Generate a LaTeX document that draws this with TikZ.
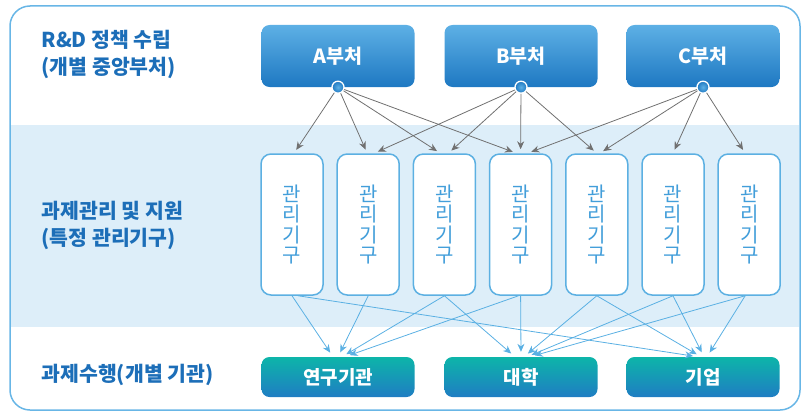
\documentclass[tikz,border=0pt]{standalone}
\usepackage{fontspec}
\setmainfont{Noto Sans CJK KR}
\usetikzlibrary{positioning, arrows.meta, calc}
\definecolor{framecol}{RGB}{104,182,230}
\definecolor{bandcol}{RGB}{221,238,249}
\definecolor{labelblue}{RGB}{28,110,184}
\definecolor{depttop}{RGB}{93,176,229}
\definecolor{deptbot}{RGB}{30,120,194}
\definecolor{insttop}{RGB}{13,181,169}
\definecolor{instbot}{RGB}{31,125,195}
\definecolor{orgline}{RGB}{92,176,226}
\definecolor{orgtext}{RGB}{66,158,218}
\definecolor{arrowgray}{RGB}{112,112,112}
\definecolor{flowblue}{RGB}{90,176,227}
\tikzset{
  tier/.style={anchor=west, align=left, text=labelblue, font=\bfseries\fontsize{20.5}{27}\selectfont},
  dept/.style={rectangle, rounded corners=8pt, minimum width=153pt, minimum height=62pt, top color=depttop, bottom color=deptbot, text=white, font=\bfseries\fontsize{19.5}{20}\selectfont},
  hub/.style={circle, minimum size=12pt, inner sep=0pt, draw=white, line width=1.3pt, inner color=depttop, outer color=deptbot},
  agency/.style={rectangle, rounded corners=10pt, minimum width=62pt, minimum height=141pt, draw=orgline, line width=1.5pt, fill=white, text=orgtext, align=center, font=\fontsize{20}{20.5}\selectfont},
  inst/.style={rectangle, rounded corners=8pt, minimum width=153pt, minimum height=40pt, top color=insttop, bottom color=instbot, text=white, font=\bfseries\fontsize{19}{20}\selectfont},
  policy/.style={draw=arrowgray, line width=0.8pt, -{Stealth[length=8pt,width=7pt]}, shorten >=4pt},
  flow/.style={draw=flowblue, line width=0.8pt, -{Stealth[length=8pt,width=7pt]}, shorten >=5pt}
}

\begin{document}
\begin{tikzpicture}[x=1pt, y=-1pt]
    \useasboundingbox (0,0) rectangle (802,412);

    % 1. Fondo y marco
    \fill[bandcol] (11,125) rectangle (799,327);
    \draw[framecol, line width=1.5pt, rounded corners=20pt] (10,6) rectangle (800,410);

    % 2. Niveles (izquierda)
    \node[tier] (tierpolicy) at (38,54) {R\&D 정책 수립\\(개별 중앙부처)};
    \node[tier] (tiermanage) at (38,225) {과제관리 및 지원\\(특정 관리기구)};
    \node[tier] (tierexec) at (38,375) {과제수행(개별 기관)};

    % 3.부처
    \node[dept] (deptA) at (338,56) {A부처};
    \node[dept] (deptB) at (521,56) {B부처};
    \node[dept] (deptC) at (703,56) {C부처};
    \foreach \d in {A,B,C}
        \node[hub] (hub\d) at (dept\d.south) {};

    % 4. 관리기구
    \foreach \i in {1,...,7}
        \node[agency] (org\i) at ({292+76.2*(\i-1)},224.5) {관\\리\\기\\구};

    % 5. 개별 기관
    \node[inst] (lab) at (338,377) {연구기관};
    \node[inst] (univ) at (521,377) {대학};
    \node[inst] (firm) at (703,377) {기업};

    % 6. Conexiones
    \foreach \src/\dst/\dx in {A/1/2, A/2/-1, A/3/-4, A/4/-4, B/2/6, B/3/4, B/4/0, B/5/0, C/4/7, C/5/3, C/6/0, C/7/-4}
        \draw[policy] (hub\src) -- ([xshift=\dx pt]org\dst.north);

    \foreach \org/\dst/\sx/\dx in {1/lab/0/-5, 1/firm/6/-5, 2/lab/0/0, 3/lab/0/4, 3/univ/0/-6, 4/lab/-2/7, 4/univ/0/0, 5/univ/0/3, 5/firm/0/-2, 6/univ/0/6, 6/firm/0/1, 7/univ/-4/9, 7/firm/-4/4}
        \draw[flow] ([xshift=\sx pt]org\org.south) -- ([xshift=\dx pt]\dst.north);

\end{tikzpicture}
\end{document}
